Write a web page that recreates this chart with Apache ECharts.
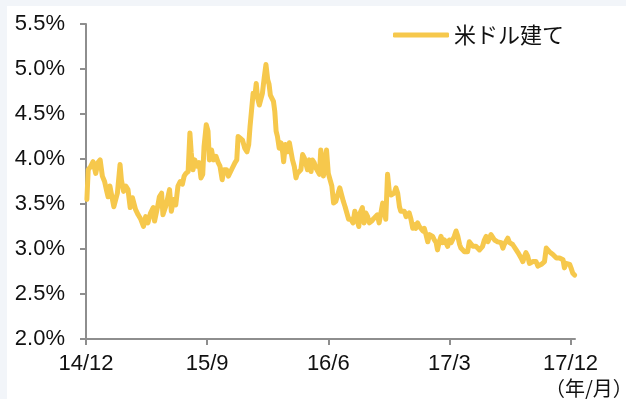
<!DOCTYPE html>
<html>
<head>
<meta charset="utf-8">
<script src="https://cdn.jsdelivr.net/npm/echarts@6/dist/echarts.min.js"></script>
<style>
  html, body { margin: 0; padding: 0; background: #f2f5f9; }
  #chart { width: 626px; height: 399px; }
</style>
</head>
<body>
<div id="chart"></div>
<script>
// Days elapsed since 2014-12-01 for each observation
const days = [
  2,5,11,16,22,27,32,37,42,47,50,54,57,63,67,71,77,80,85,90,95,100,105,109,112,118,124,130,135,140,
  146,152,155,162,166,171,174,180,184,189,193,198,203,208,213,218,222,226,231,235,238,242,246,251,256,260,264,267,272,276,
  279,284,288,294,299,303,308,312,318,322,326,331,337,341,344,349,354,359,364,368,371,375,378,382,385,388,392,395,399,403,
  407,411,414,417,420,424,427,430,433,437,441,445,447,451,456,460,463,467,471,475,478,482,486,490,494,497,501,505,509,512,
  516,520,524,528,531,534,537,540,544,548,552,556,560,565,569,574,578,582,586,590,594,599,604,608,613,617,620,625,629,633,
  637,641,646,651,655,659,663,667,671,675,678,682,686,690,694,697,701,705,709,712,716,720,724,728,731,735,739,743,746,750,
  754,758,762,765,769,773,777,780,784,788,792,795,799,803,807,811,814,818,822,826,829,833,837,841,845,848,852,856,860,863,
  867,871,875,879,882,886,890,894,897,901,905,909,912,916,920,924,928,931,935,939,943,946,950,954,958,962,965,969,973,977,
  980,984,988,992,995,999,1003,1007,1011,1014,1018,1022,1026,1030,1033,1037,1041,1045,1048,1052,1056,1060,1064,1067,1071,1075,1079,1082,1086,1090,
  1094,1097,1101,1105
];

// USD-denominated yield (%)
const usdYield = [
  3.55,3.88,3.92,3.97,3.84,3.96,3.99,3.81,3.75,3.64,3.58,3.70,3.68,3.47,3.47,3.62,3.94,3.77,3.64,3.70,3.66,3.46,3.57,3.58,3.44,3.38,3.33,3.25,3.36,3.29,
  3.40,3.46,3.31,3.47,3.58,3.62,3.38,3.47,3.55,3.66,3.42,3.55,3.49,3.70,3.75,3.72,3.81,3.84,3.86,4.29,4.07,3.88,3.99,3.92,3.96,3.79,3.83,4.14,4.38,4.31,
  3.99,4.10,3.99,4.03,3.96,3.92,3.77,3.88,3.88,3.81,3.83,3.90,3.96,3.99,4.25,4.23,4.21,4.12,4.08,4.16,4.36,4.38,4.73,4.70,4.84,4.68,4.60,4.62,4.73,4.90,
  5.05,4.88,4.83,4.71,4.68,4.64,4.53,4.31,4.25,4.12,4.18,4.07,3.97,4.16,4.08,4.18,4.16,3.99,3.92,3.79,3.84,3.86,3.88,4.05,4.01,3.99,3.88,3.99,3.86,3.99,
  3.96,3.90,3.92,3.83,4.10,4.10,3.81,3.96,4.10,3.84,3.83,3.70,3.51,3.53,3.55,3.68,3.66,3.53,3.47,3.40,3.33,3.33,3.29,3.42,3.33,3.25,3.40,3.46,3.29,3.40,
  3.36,3.29,3.31,3.34,3.36,3.38,3.29,3.40,3.51,3.49,3.33,3.83,3.64,3.60,3.62,3.62,3.68,3.62,3.47,3.42,3.40,3.42,3.36,3.36,3.40,3.33,3.23,3.27,3.23,3.29,
  3.25,3.27,3.20,3.23,3.16,3.08,3.16,3.14,3.14,3.10,3.07,2.99,3.08,3.14,3.07,3.10,3.10,3.03,3.10,3.07,3.10,3.14,3.20,3.14,3.05,3.01,2.99,2.97,2.96,2.97,
  3.08,3.10,3.03,3.05,3.03,3.01,2.99,2.97,3.03,3.10,3.14,3.08,3.10,3.16,3.14,3.10,3.10,3.08,3.07,3.07,3.01,3.05,3.03,3.12,3.07,3.08,3.05,3.03,2.99,2.96,
  2.97,2.90,2.86,2.92,2.96,2.92,2.84,2.83,2.86,2.88,2.86,2.81,2.83,2.83,2.84,2.86,3.01,3.03,2.97,2.96,2.94,2.92,2.90,2.92,2.90,2.90,2.88,2.79,2.84,2.84,
  2.83,2.79,2.73,2.71
];

// X-axis ticks: every nine months, day offsets from 2014-12-01
const xTickDays = [0, 274, 548, 822, 1096];
const xTickLabels = ['14/12', '15/9', '16/6', '17/3', '17/12'];

const seriesName = '米ドル建て';
const unitLabel = '（年/月）';

const lineColor = '#f6c84c';
const axisColor = '#8e8e8e';
const latinFont = '"Liberation Sans", Arial, sans-serif';
const cjkFont = '"Noto Sans CJK JP", sans-serif';

const chart = echarts.init(document.getElementById('chart'), null, { renderer: 'canvas' });

chart.setOption({
  backgroundColor: '#f2f5f9',
  animation: false,
  graphic: [
    { type: 'rect', left: 7, top: 6, z: -10,
      shape: { width: 619, height: 393 }, style: { fill: '#ffffff' } },
    { type: 'text', left: 545, top: 378,
      style: { text: unitLabel, font: '20px ' + cjkFont, fill: '#111' } }
  ],
  grid: { left: 86, right: 51, top: 24, bottom: 60 },
  legend: {
    left: 388, top: 19,
    itemWidth: 56, itemHeight: 5, itemGap: 5,
    icon: 'roundRect',
    textStyle: { fontFamily: cjkFont, fontSize: 22, color: '#111' },
    data: [seriesName]
  },
  xAxis: {
    type: 'value',
    min: 0, max: 1106,
    axisLine: { show: true, lineStyle: { color: axisColor, width: 2 } },
    axisTick: { show: true, length: 6, customValues: xTickDays,
      lineStyle: { color: axisColor, width: 2 } },
    axisLabel: {
      customValues: xTickDays,
      margin: 14,
      fontFamily: latinFont, fontSize: 22, color: '#111',
      formatter: v => xTickLabels[xTickDays.indexOf(v)] || ''
    },
    splitLine: { show: false }
  },
  yAxis: {
    type: 'value',
    min: 2, max: 5.5, interval: 0.5,
    axisLine: { show: true, lineStyle: { color: axisColor, width: 2 } },
    axisTick: { show: true, length: 6, lineStyle: { color: axisColor, width: 2 } },
    axisLabel: {
      margin: 21,
      fontFamily: latinFont, fontSize: 22, color: '#111',
      formatter: v => v.toFixed(1) + '%'
    },
    splitLine: { show: false }
  },
  series: [{
    name: seriesName,
    type: 'line',
    showSymbol: false,
    symbol: 'none',
    data: days.map((d, i) => [d, usdYield[i]]),
    itemStyle: { color: lineColor },
    lineStyle: { color: lineColor, width: 5, join: 'round', cap: 'round' }
  }]
});
</script>
</body>
</html>
